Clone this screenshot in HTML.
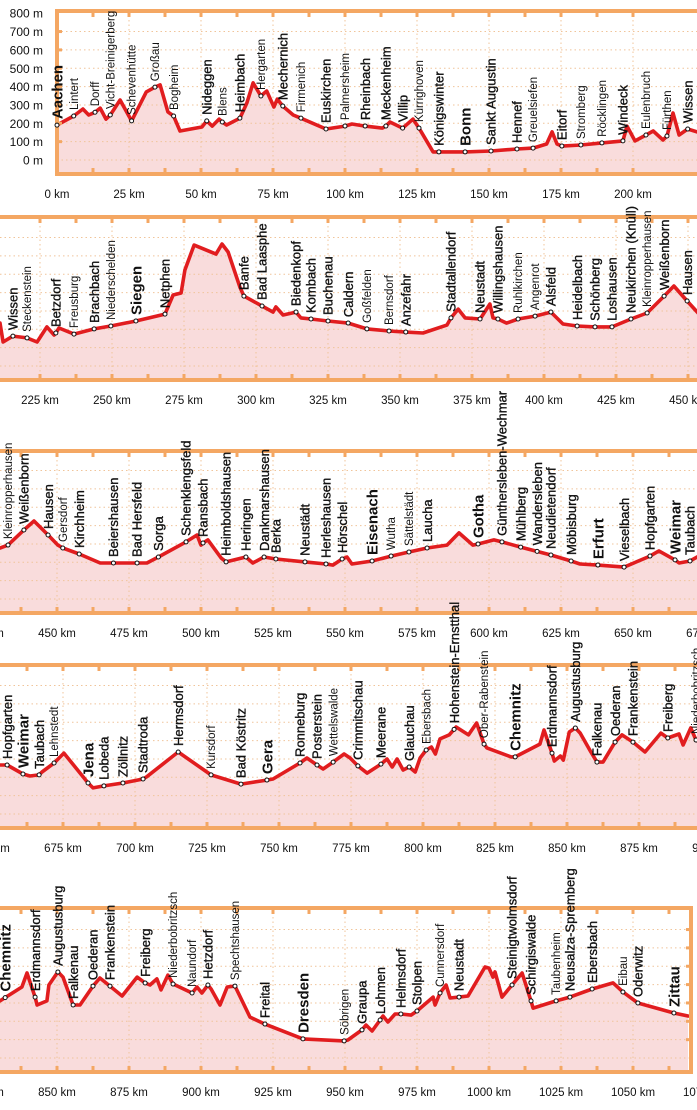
<!DOCTYPE html>
<html><head><meta charset="utf-8">
<style>
html,body{margin:0;padding:0;background:#fff;}
svg{display:block;font-family:"Liberation Sans",sans-serif;}
</style></head>
<body>
<svg id="chart" width="697" height="1110" viewBox="0 0 697 1110" xmlns="http://www.w3.org/2000/svg"></svg>
<script>
// ---- data (km along route, elevation in m) ----
const elevTicks = [0,100,200,300,400,500,600,700,800];

const p1Km   = [0,5.8,9,11,13.2,15,17,18.5,21.9,25.9,31,34,35.8,38.5,40.5,42.7,50.3,52,53.9,56.3,57.4,58.9,63.5,65.9,68.1,70.8,72.8,75.3,76.5,78.4,82,84.7,93.4,100,102.4,107,113,114.2,115.6,120,123.6,125.7,130.6,132.6,141.7,150.7,159.7,165.3,170,171.9,173.6,175.3,181.9,189.2,196.5,197.9,200.7,204.5,207,210.4,211.8,213.9,216,219,223];
const p1Elev = [190,240,278,245,260,283,223,245,327,213,371,397,409,262,240,158,180,213,185,223,207,191,228,310,420,349,376,289,332,294,245,228,169,185,196,185,174,185,207,174,223,174,44,44,44,49,60,65,87,153,87,76,82,93,104,185,104,136,158,109,131,256,136,169,150];
const p1Names = ["Aachen","Lintert","Dorff","Vicht-Breinigerberg","Schevenhütte","Großau","Bogheim","Nideggen","Blens","Heimbach","Hergarten","Mechernich","Firmenich","Euskirchen","Palmersheim","Rheinbach","Meckenheim","Villip","Kürrighoven","Königswinter","Bonn","Sankt Augustin","Hennef","Greuelsiefen","Eitorf","Stromberg","Röcklingen","Windeck","Eulenbruch","Fürthen","Wissen"];
const p1PlaceKm = [0,5.8,13.2,18.5,25.9,34,40.5,52,57.4,63.5,70.8,78.4,84.7,93.4,100,107,114.2,120,125.7,132.6,141.7,150.7,159.7,165.3,175.3,181.9,189.2,196.5,204.5,211.8,219];
const p1Size = ["b","s","s","s","s","s","s","m","s","m","s","m","s","m","s","m","m","m","s","m","b","m","m","s","m","s","s","m","s","s","m"];

const p2Km   = [211.1,212.2,215.6,220.5,224,227.4,229.9,230.5,231.6,236.8,243.8,249.6,258.3,268.4,271.2,274,275.3,278.5,286.1,288.2,290.3,294.4,295.8,302.1,305.9,306.9,309.4,313.9,315.6,319.1,325,332,338.5,346.2,352,358,366.3,367.7,370.2,372.6,377.8,381.2,382.3,384,387,391,396.9,402.4,406.6,411.5,417.7,423.6,430.2,435.8,441.7,445.1,449.7,454];
const p2Elev = [234,131,163,153,131,213,169,180,207,174,202,218,245,283,387,398,523,659,610,665,621,430,381,327,294,322,278,294,262,256,245,234,202,191,185,180,223,262,310,262,256,338,262,256,234,256,272,294,229,218,213,213,256,289,381,436,354,280];
const p2Names = ["Wissen","Steckenstein","Betzdorf","Freusburg","Brachbach","Niederschelden","Siegen","Netphen","Banfe","Bad Laasphe","Biedenkopf","Kombach","Buchenau","Caldern","Goßfelden","Bernsdorf","Anzefahr","Stadtallendorf","Neustadt","Willingshausen","Ruhlkirchen","Angenrot","Alsfeld","Heidelbach","Schönberg","Loshausen","Neukirchen (Knüll)","Kleinropperhausen","Weißenborn","Hausen"];
const p2PlaceKm = [215.6,220.5,230.5,236.8,243.8,249.6,258.3,268.4,295.8,302.1,313.9,319.1,325,332,338.5,346.2,352,367.7,377.8,384,391,396.9,402.4,411.5,417.7,423.6,430.2,435.8,441.7,449.7];
const p2Size = ["m","s","m","s","m","s","b","m","m","m","m","m","m","m","s","s","m","m","m","m","s","s","m","m","m","m","m","s","m","m"];

const p3Km   = [430.2,433,438.5,442,446.9,450.3,452,457.7,465,469.6,477.8,481.2,485.2,494.8,498.6,500,500.7,502.4,507,508.7,515.6,518,521.9,526,536.1,543.4,545.8,549,550.7,552.4,559.4,566,572.2,578.5,585.4,589.6,594.4,596.2,601.7,604.5,611,621.5,628.5,631.6,637.8,646.9,655.9,659,664.6,666,669.8,673];
const p3Elev = [278,294,376,425,349,294,278,245,196,196,196,196,229,311,349,294,305,322,223,202,229,196,229,218,202,191,185,218,229,191,207,234,256,278,294,360,294,300,322,311,283,240,207,191,185,174,234,262,213,196,207,235];
const p3Names = ["Kleinropperhausen","Weißenborn","Hausen","Gersdorf","Kirchheim","Beiershausen","Bad Hersfeld","Sorga","Schenklengsfeld","Ransbach","Heimboldshausen","Heringen","Dankmarshausen","Berka","Neustädt","Herleshausen","Hörschel","Eisenach","Wutha","Sättelstädt","Laucha","Gotha","Günthersleben-Wechmar","Mühlberg","Wandersleben","Neudietendorf","Möbisburg","Erfurt","Vieselbach","Hopfgarten","Weimar","Taubach"];
const p3PlaceKm = [433,438.5,446.9,452,457.7,469.6,477.8,485.2,494.8,500.7,508.7,515.6,521.9,526,536.1,543.4,549,559.4,566,572.2,578.5,596.2,604.5,611,616.7,621.5,628.5,637.8,646.9,655.9,664.6,669.8];
const p3Size = ["s","m","m","s","m","m","m","m","m","m","m","m","m","m","m","m","m","b","s","s","m","b","m","m","m","m","m","b","m","m","b","m"];

const p4Km   = [653.1,655.6,661.1,663.5,666.7,667.7,671.9,675.3,683.7,685.4,689.2,695.8,702.8,704,715,726.4,736.8,745.8,747.9,757.3,759.7,763.2,765.3,768.8,772.6,774.7,777.4,780.6,785.4,787.5,789.3,791,793.1,795.2,797.3,799,801.1,802.9,804.3,805.9,809.1,811.5,815.8,818.6,821.2,822.2,830.6,832,840.6,842,844.8,845.6,847.7,848.7,850.8,852.9,854.6,858.3,860.4,862.5,866.7,869.1,872.9,877.1,882.6,885,888.9,890.3,893,894.8,898];
const p4Elev = [267,267,218,207,213,229,278,332,169,142,153,169,191,202,338,213,163,185,191,278,305,267,245,283,327,305,262,223,272,300,256,300,240,256,229,305,349,365,327,409,431,474,431,496,381,360,311,311,381,458,332,289,316,294,447,469,441,338,283,283,392,431,392,338,441,414,436,376,469,403,370];
const p4Names = ["Hopfgarten","Weimar","Taubach","Lehnstedt","Jena","Lobeda","Zöllnitz","Stadtroda","Hermsdorf","Kursdorf","Bad Köstritz","Gera","Ronneburg","Posterstein","Wettelswalde","Crimmitschau","Meerane","Glauchau","Ebersbach","Hohenstein-Ernstthal","Ober-Rabenstein","Chemnitz","Erdmannsdorf","Augustusburg","Falkenau","Oederan","Frankenstein","Freiberg","Niederbobritzsch"];
const p4PlaceKm = [655.6,661.1,666.7,671.9,683.7,689.2,695.8,702.8,715,726.4,736.8,745.8,757.3,763.2,768.8,777.4,785.4,795.2,801.1,810.8,821.2,832,844.8,852.9,860.4,866.7,872.9,885,894.8];
const p4Size = ["m","b","m","s","b","m","m","m","m","s","m","b","m","m","s","m","m","m","s","m","s","b","m","m","m","m","m","m","s"];

const p5Km   = [830.2,837.8,839.6,842.4,843.1,846.5,847.2,850.3,852.1,855.6,858,862.5,864.9,868.4,872.6,877.8,880.6,882.3,884.7,886.1,888.5,890.3,896.9,898.6,900.3,902.4,903.5,906.6,909.1,911.8,917,922.2,935.4,949.7,951,955.9,957.3,959.4,962.2,963.2,964.9,967.4,969.4,972.9,975,980.6,981.3,983,985.1,986.5,989.6,992.7,998.6,1000,1001.4,1002.1,1004.5,1008,1011.5,1014.6,1015.3,1023.3,1028.1,1035.8,1043.1,1046.5,1051.7,1064.2,1069.1];
const p5Elev = [311,387,463,332,289,311,398,469,441,289,289,392,436,392,338,441,409,398,431,371,452,403,354,387,354,398,376,289,387,392,223,185,104,93,98,153,180,147,207,229,196,240,240,234,256,332,289,354,398,327,332,338,496,490,441,469,332,398,463,311,272,311,332,376,409,360,300,245,229];
const p5Names = ["Chemnitz","Erdmannsdorf","Augustusburg","Falkenau","Oederan","Frankenstein","Freiberg","Niederbobritzsch","Naundorf","Hetzdorf","Spechtshausen","Freital","Dresden","Söbrigen","Graupa","Lohmen","Helmsdorf","Stolpen","Cunnersdorf","Neustadt","Steinigtwolmsdorf","Schirgiswalde","Taubenheim","Neusalza-Spremberg","Ebersbach","Eibau","Oderwitz","Zittau"];
const p5PlaceKm = [832,842.4,850.3,855.6,862.5,868.4,880.6,890.3,896.9,902.4,911.8,922.2,935.4,949.7,955.9,962.2,969.4,975,983,989.6,1008,1014.6,1023.3,1028.1,1035.8,1046.5,1051.7,1064.2];
const p5Size = ["b","m","m","m","m","m","m","s","s","m","s","m","b","s","m","m","m","m","s","m","m","m","s","m","m","s","m","b"];

// ---- layout ----
const PXKM = 2.88, PXM = 0.1835;
const ORANGE = "#f4a763", GRID = "#f0c49a", FILL = "#f9dcdc", LINE = "#e11d1f";
const layout = [
  {top:11,  bottom:174,  x0:57, k0:0,   left:57, right:697, lb:true,  rb:false, kmin:0,   kmax:200},
  {top:217, bottom:380,  x0:40, k0:225, left:0,  right:697, lb:false, rb:false, kmin:225, kmax:450},
  {top:451, bottom:613,  x0:57, k0:450, left:0,  right:697, lb:false, rb:false, kmin:425, kmax:675},
  {top:665, bottom:828,  x0:63, k0:675, left:0,  right:697, lb:false, rb:false, kmin:650, kmax:900},
  {top:908, bottom:1072, x0:57, k0:850, left:0,  right:691, lb:false, rb:true,  kmin:825, kmax:1075}
];
const NS = "http://www.w3.org/2000/svg";
const svg = document.getElementById("chart");
function mk(tag, attrs, parent){
  const e = document.createElementNS(NS, tag);
  for (const k in attrs) e.setAttribute(k, attrs[k]);
  (parent||svg).appendChild(e);
  return e;
}
function interp(km, elev, k){
  for (let i=0;i<km.length-1;i++){
    if (k>=km[i] && k<=km[i+1]){ const t=(k-km[i])/(km[i+1]-km[i]||1); return elev[i]+t*(elev[i+1]-elev[i]); }
  }
  return k<km[0]?elev[0]:elev[elev.length-1];
}

function drawPanel(idx, cfg, km, elev, names, pkm, psize){
  const zero = cfg.bottom - 14;
  const X = k => cfg.x0 + (k - cfg.k0)*PXKM;
  const Y = e => zero - e*PXM;
  const g = mk("g", {});
  
  
  const cp = mk("clipPath", {id:"clip"+idx}, g);
  mk("rect", {x:cfg.left, y:cfg.top, width:cfg.right-cfg.left, height:cfg.bottom-cfg.top}, cp);
  const inner = mk("g", {"clip-path":"url(#clip"+idx+")"}, g);

  // fill area
  let pts = km.map((k,i)=>X(k).toFixed(1)+","+Y(elev[i]).toFixed(1));
  const area = mk("polygon", {points: pts.join(" ")+" "+X(km[km.length-1]).toFixed(1)+","+cfg.bottom+" "+X(km[0]).toFixed(1)+","+cfg.bottom, fill:FILL}, inner);
  
  

  // grid
  elevTicks.forEach(t=>{
    if (t===800) return;
    const l = mk("line", {x1:cfg.left, x2:cfg.right, y1:Y(t), y2:Y(t), stroke:GRID, "stroke-width":1, "stroke-dasharray":"1.5 3"}, inner);
    
    
  });
  for (let k=cfg.kmin; k<=cfg.kmax; k+=25){
    const l = mk("line", {x1:X(k), x2:X(k), y1:cfg.top, y2:cfg.bottom, stroke:GRID, "stroke-width":1, "stroke-dasharray":"1.5 3"}, inner);
    
    
  }

  // line
  const pl = mk("polyline", {points: pts.join(" "), fill:"none", stroke:LINE, "stroke-width":3.6, "stroke-linejoin":"round", "stroke-linecap":"round"}, inner);
  
  

  // frame
  const fr = mk("g", {}, g);
  
  
  mk("line", {x1:cfg.left, x2:cfg.right, y1:cfg.top, y2:cfg.top, stroke:ORANGE, "stroke-width":4}, fr);
  mk("line", {x1:cfg.left, x2:cfg.right, y1:cfg.bottom, y2:cfg.bottom, stroke:ORANGE, "stroke-width":4}, fr);
  if (cfg.lb) mk("line", {x1:cfg.left, x2:cfg.left, y1:cfg.top-2, y2:cfg.bottom+2, stroke:ORANGE, "stroke-width":4}, fr);
  if (cfg.rb) mk("line", {x1:cfg.right, x2:cfg.right, y1:cfg.top-2, y2:cfg.bottom+2, stroke:ORANGE, "stroke-width":4}, fr);
  for (let k=cfg.kmin; k<=cfg.kmax; k+=12.5){
    const x = X(k);
    if (x < cfg.left+3 || x > cfg.right-3) continue;
    mk("rect", {x:x-1.5, y:cfg.top, width:3, height:6, fill:ORANGE}, fr);
    mk("rect", {x:x-1.5, y:cfg.bottom-6, width:3, height:6, fill:ORANGE}, fr);
  }
  elevTicks.forEach(t=>{
    if (t===0||t===800) return;
    if (cfg.lb) mk("rect", {x:cfg.left, y:Y(t)-1.5, width:5, height:3, fill:ORANGE}, fr);
    if (cfg.rb) mk("rect", {x:cfg.right-5, y:Y(t)-1.5, width:5, height:3, fill:ORANGE}, fr);
  });

  // x labels
  for (let k=cfg.kmin; k<=cfg.kmax; k+=25){
    const t = mk("text", {x:X(k), y:cfg.bottom+24, "text-anchor":"middle", "font-size":11.5, fill:"#111"}, g);
    t.textContent = k + " km";
    
    
  }

  // places: markers and labels
  pkm.forEach((k,i)=>{
    const x = X(k), y = Y(interp(km, elev, k));
    const c = mk("circle", {cx:x, cy:y, r:2, fill:"#fff", stroke:"#111", "stroke-width":1}, g);
    
    
    const s = psize[i];
    const fs = s==="b"?15:(s==="m"?13:11.5);
    const t = mk("text", {transform:"translate("+(x+fs*0.36).toFixed(1)+","+(y-6).toFixed(1)+") rotate(-90)", "font-size":fs, "font-weight":s==="b"?"bold":"normal", fill:"#111", stroke:s==="m"?"#111":"none", "stroke-width":s==="m"?0.35:0}, g);
    t.textContent = names[i];
    
    
  });

  if (idx===0){
    elevTicks.forEach(t=>{
      const l = mk("text", {x:43, y:Y(t)+4.5, "text-anchor":"end", "font-size":12, fill:"#111"}, g);
      l.textContent = t + " m";
      
      
    });
  }
}

drawPanel(0, layout[0], p1Km, p1Elev, p1Names, p1PlaceKm, p1Size);
drawPanel(1, layout[1], p2Km, p2Elev, p2Names, p2PlaceKm, p2Size);
drawPanel(2, layout[2], p3Km, p3Elev, p3Names, p3PlaceKm, p3Size);
drawPanel(3, layout[3], p4Km, p4Elev, p4Names, p4PlaceKm, p4Size);
drawPanel(4, layout[4], p5Km, p5Elev, p5Names, p5PlaceKm, p5Size);
</script>
</body></html>
